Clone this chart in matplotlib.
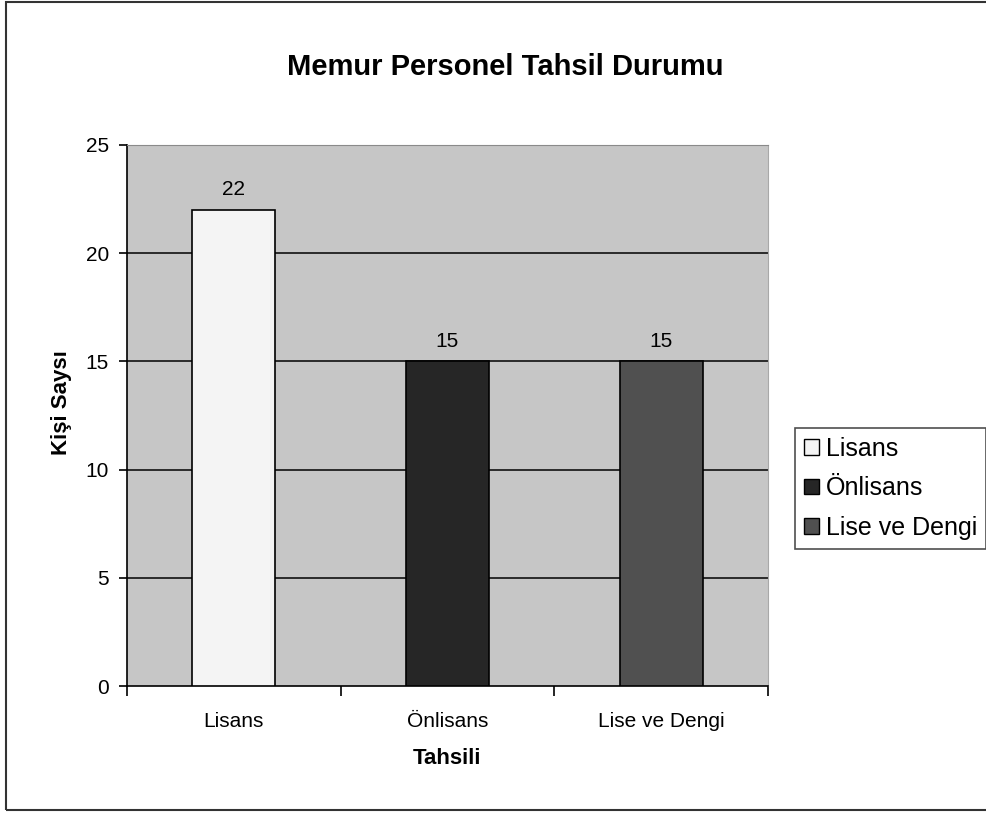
import matplotlib
matplotlib.use('Agg')
import matplotlib.pyplot as plt
from matplotlib.patches import Rectangle, Patch

# data
categories = ['Lisans', 'Önlisans', 'Lise ve Dengi']
counts = [22, 15, 15]
bar_colors = ['#f4f4f4', '#262626', '#505050']
y_ticks = [0, 5, 10, 15, 20, 25]

plt.rcParams['font.family'] = ['Liberation Sans', 'DejaVu Sans']

fig = plt.figure(figsize=(9.87, 8.16), dpi=100)
fig.patch.set_facecolor('white')

# outer chart border
fig.add_artist(Rectangle((6 / 987, 6 / 816), 1.2, 808 / 816,
                         transform=fig.transFigure, fill=False,
                         edgecolor='#333333', linewidth=1.5))

ax = fig.add_axes([127 / 987, 1 - 686 / 816, 641 / 987, 541 / 816])
ax.set_facecolor('#c6c6c6')

x = range(len(categories))
bars = ax.bar(x, counts, width=0.39, color=bar_colors,
              edgecolor='black', linewidth=1.2, zorder=3)

for xi, v in zip(x, counts):
    ax.text(xi, v + 0.5, str(v), ha='center', va='bottom', fontsize=15)

ax.set_xlim(-0.5, len(categories) - 0.5)
ax.set_ylim(0, 25)
ax.set_yticks(y_ticks)
ax.set_yticklabels([str(t) for t in y_ticks], fontsize=15)
for t in y_ticks[1:-1]:
    ax.axhline(t, color='black', linewidth=1.1, zorder=1)

# category ticks on the boundaries, labels in the middle
ax.set_xticks([i - 0.5 for i in range(len(categories) + 1)])
ax.set_xticklabels([])
ax.set_xticks(list(x), minor=True)
ax.set_xticklabels(categories, minor=True, fontsize=15)
ax.tick_params(axis='x', which='minor', length=0, pad=19)
ax.tick_params(axis='x', which='major', direction='out', length=7, width=1.2)
ax.tick_params(axis='y', direction='out', length=6, width=1.2, pad=7)

ax.spines['left'].set_color('black')
ax.spines['bottom'].set_color('black')
ax.spines['left'].set_linewidth(1.2)
ax.spines['bottom'].set_linewidth(1.2)
ax.spines['top'].set_color('#8a8a8a')
ax.spines['right'].set_color('#a8a8a8')

fig.text(505 / 987, 1 - 67 / 816, 'Memur Personel Tahsil Durumu',
         ha='center', va='center', fontsize=21, fontweight='bold')
fig.text(447 / 987, 1 - 759 / 816, 'Tahsili', ha='center', va='center',
         fontsize=16, fontweight='bold')
fig.text(62 / 987, 1 - 403 / 816, 'Kişi Saysı', ha='center', va='center',
         rotation=90, fontsize=16, fontweight='bold')

handles = [Patch(facecolor=c, edgecolor='black', label=l)
           for c, l in zip(bar_colors, categories)]
leg = fig.legend(handles=handles, loc='upper left',
                 bbox_to_anchor=(795 / 987, 1 - 428 / 816),
                 fontsize=18, frameon=True, fancybox=False,
                 handlelength=0.6, handleheight=0.6, handletextpad=0.3,
                 labelspacing=0.62, borderpad=0.35, borderaxespad=0)
leg.get_frame().set_edgecolor('#222222')
leg.get_frame().set_linewidth(1.2)

fig.savefig('out.png', dpi=100)
plt.close(fig)
